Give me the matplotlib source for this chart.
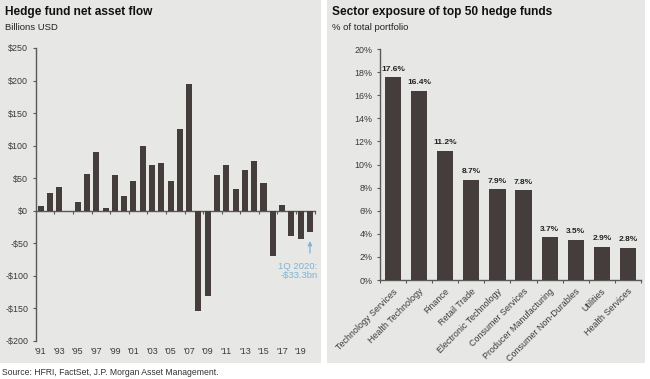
import matplotlib.pyplot as plt
from matplotlib.patches import Rectangle
from matplotlib.transforms import blended_transform_factory

# net asset flow, billions USD, 1991 - 1Q 2020
years = list(range(1991, 2021))
flows = [8, 27, 37, -1, 14, 57, 91, 4, 55, 23, 46, 99, 70, 73, 46, 126, 195,
         -154, -131, 55, 70, 34, 63, 76, 43, -70, 9, -38, -43, -33.3]
year_ticks = list(range(1991, 2020, 2))
year_labels = ["'%02d" % (y % 100) for y in year_ticks]
flow_ticks = [250, 200, 150, 100, 50, 0, -50, -100, -150, -200]

sectors = ["Technology Services", "Health Technology", "Finance", "Retail Trade",
           "Electronic Technology", "Consumer Services", "Producer Manufacturing",
           "Consumer Non-Durables", "Utilities", "Health Services"]
exposure = [17.6, 16.4, 11.2, 8.7, 7.9, 7.8, 3.7, 3.5, 2.9, 2.8]
pct_ticks = list(range(0, 21, 2))

panel_bg = '#e7e7e6'
bar_col = '#453d3b'
spine_col = '#595959'
text_col = '#3a3a3a'
note_col = '#7fb3d5'

plt.rcParams['font.family'] = ['Liberation Sans', 'DejaVu Sans']

fig = plt.figure(figsize=(6.5, 3.79), dpi=100)
fig.patch.set_facecolor('white')

# grey panels behind each chart
fig.patches.append(Rectangle((0, 0.042), 0.494, 0.958, transform=fig.transFigure,
                             facecolor=panel_bg, edgecolor='none', zorder=-5))
fig.patches.append(Rectangle((0.503, 0.042), 0.489, 0.958, transform=fig.transFigure,
                             facecolor=panel_bg, edgecolor='none', zorder=-5))

fig.text(0.008, 0.968, 'Hedge fund net asset flow', fontsize=8.6, fontweight='bold',
         color='#111111', va='center')
fig.text(0.008, 0.928, 'Billions USD', fontsize=6.8, color='#222222', va='center')
fig.text(0.510, 0.968, 'Sector exposure of top 50 hedge funds', fontsize=8.6,
         fontweight='bold', color='#111111', va='center')
fig.text(0.510, 0.928, '% of total portfolio', fontsize=6.8, color='#222222', va='center')
fig.text(0.003, 0.018, 'Source: HFRI, FactSet, J.P. Morgan Asset Management.',
         fontsize=6.2, color='#333333', va='center')

# ---- left chart
ax = fig.add_axes([0.0552, 0.1003, 0.4288, 0.7731])
ax.set_facecolor('none')
ax.bar(years, flows, width=0.65, color=bar_col, zorder=3)
ax.set_xlim(1990.5, 2020.5)
ax.set_ylim(-200, 250)
ax.set_yticks(flow_ticks)
ax.set_yticklabels([('$%d' % v) if v >= 0 else ('-$%d' % -v) for v in flow_ticks])
for s in ['top', 'right']:
    ax.spines[s].set_visible(False)
ax.spines['left'].set_color(spine_col)
ax.spines['left'].set_linewidth(1.0)
ax.spines['bottom'].set_position(('data', 0))
ax.spines['bottom'].set_color(spine_col)
ax.spines['bottom'].set_linewidth(1.0)
ax.set_xticks([y + 1.5 for y in years[::2]])
ax.tick_params(axis='x', length=2.5, width=0.8, color=spine_col, labelbottom=False)
ax.tick_params(axis='y', length=2.5, width=0.8, color=spine_col, labelsize=6.4,
               labelcolor=text_col, pad=3)
# year labels sit below the plot, not on the zero line
trans = blended_transform_factory(ax.transData, ax.transAxes)
for y, lab in zip(year_ticks, year_labels):
    ax.text(y, -0.022, lab, transform=trans, ha='center', va='top',
            fontsize=6.4, color=text_col)

last = flows[-1]
ax.annotate('', xy=(years[-1], last - 9), xytext=(years[-1], last - 36),
            arrowprops=dict(arrowstyle='-|>', color=note_col, lw=0.9,
                            mutation_scale=6))
ax.text(years[-1] + 0.8, last - 45, '1Q 2020:\n-$%.1fbn' % -last, ha='right',
        va='top', fontsize=6.8, color=note_col, linespacing=1.1)

# ---- right chart
ax2 = fig.add_axes([0.5846, 0.2612, 0.4015, 0.6095])
ax2.set_facecolor('none')
pos = list(range(len(sectors)))
ax2.bar(pos, exposure, width=0.62, color=bar_col, zorder=3)
ax2.set_xlim(-0.5, len(sectors) - 0.5)
ax2.set_ylim(0, 20)
ax2.set_yticks(pct_ticks)
ax2.set_yticklabels(['%d%%' % v for v in pct_ticks])
for s in ['top', 'right']:
    ax2.spines[s].set_visible(False)
for s in ['left', 'bottom']:
    ax2.spines[s].set_color(spine_col)
    ax2.spines[s].set_linewidth(1.0)
ax2.set_xticks([p - 0.5 for p in pos] + [pos[-1] + 0.5])
ax2.tick_params(axis='x', length=2.5, width=0.8, color=spine_col, labelbottom=False)
ax2.tick_params(axis='y', length=2.5, width=0.8, color=spine_col, labelsize=6.4,
                labelcolor=text_col, pad=3)
for p, name in zip(pos, sectors):
    ax2.text(p - 0.02, -0.6, name, ha='right', va='top', rotation=45,
             rotation_mode='anchor', fontsize=6.4, color=text_col)
for p, v in zip(pos, exposure):
    ax2.annotate('%.1f%%' % v, (p, v), xytext=(0, 3), textcoords='offset points',
                 ha='center', va='bottom', fontsize=6.0, fontweight='bold',
                 color='#222222')

fig.savefig('out.png', dpi=100, facecolor=fig.get_facecolor())
